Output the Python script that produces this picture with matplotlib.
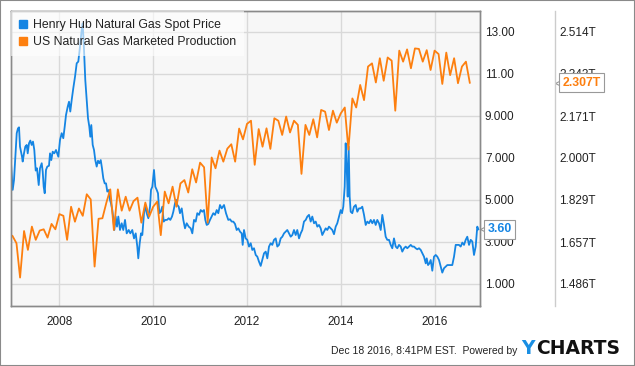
import numpy as np
import pandas as pd
import matplotlib
matplotlib.use('Agg')
from matplotlib import pyplot as plt
from matplotlib.lines import Line2D
from matplotlib.patches import Rectangle
import matplotlib.transforms as mtransforms

plt.rcParams['font.family'] = ['Liberation Sans', 'DejaVu Sans']

# Henry Hub spot price (USD/MMBtu), sample dates as decimal years
hh_t = [2006.968, 2007.004, 2007.032, 2007.068, 2007.090, 2007.117, 2007.139, 2007.160, 2007.203, 2007.217,
        2007.245, 2007.273, 2007.303, 2007.324, 2007.352, 2007.380, 2007.409, 2007.437, 2007.465, 2007.495,
        2007.522, 2007.559, 2007.586, 2007.623, 2007.644, 2007.665, 2007.687, 2007.714, 2007.742, 2007.778,
        2007.800, 2007.827, 2007.857, 2007.891, 2007.928, 2007.977,
        2008.013, 2008.049, 2008.083, 2008.113, 2008.141, 2008.177, 2008.205, 2008.232, 2008.262, 2008.296,
        2008.333, 2008.369, 2008.403, 2008.439, 2008.475, 2008.497, 2008.525, 2008.552, 2008.582, 2008.610,
        2008.638, 2008.659, 2008.680, 2008.710, 2008.738, 2008.765, 2008.795, 2008.823, 2008.851, 2008.881,
        2008.908, 2008.936, 2008.966, 2008.994,
        2009.021, 2009.058, 2009.079, 2009.100, 2009.128, 2009.149, 2009.171, 2009.200, 2009.228, 2009.256,
        2009.292, 2009.328, 2009.362, 2009.399, 2009.435, 2009.478, 2009.512, 2009.554, 2009.591, 2009.627,
        2009.661, 2009.682, 2009.712, 2009.740, 2009.768, 2009.804, 2009.832, 2009.861, 2009.896, 2009.932,
        2009.953, 2009.981,
        2010.017, 2010.045, 2010.075, 2010.102, 2010.130, 2010.160, 2010.194, 2010.224, 2010.258, 2010.294,
        2010.331, 2010.365, 2010.401, 2010.429, 2010.465, 2010.493, 2010.514, 2010.544, 2010.571, 2010.608,
        2010.642, 2010.678, 2010.714, 2010.757, 2010.800, 2010.834, 2010.870, 2010.906, 2010.940, 2010.977,
        2011.013, 2011.047, 2011.083, 2011.111, 2011.141, 2011.175, 2011.211, 2011.247, 2011.281, 2011.318,
        2011.354, 2011.388, 2011.424, 2011.461, 2011.510, 2011.552, 2011.601, 2011.638, 2011.674, 2011.708,
        2011.744, 2011.780, 2011.815, 2011.851, 2011.887, 2011.908, 2011.936, 2011.972,
        2012.006, 2012.043, 2012.079, 2012.113, 2012.149, 2012.186, 2012.220, 2012.256, 2012.292, 2012.326,
        2012.363, 2012.399, 2012.433, 2012.469, 2012.505, 2012.539, 2012.576, 2012.612, 2012.646, 2012.682,
        2012.718, 2012.753, 2012.789, 2012.825, 2012.859, 2012.896, 2012.932, 2012.966,
        2013.002, 2013.038, 2013.072, 2013.109, 2013.145, 2013.179, 2013.215, 2013.252, 2013.286, 2013.322,
        2013.358, 2013.392, 2013.429, 2013.465, 2013.499, 2013.535, 2013.571, 2013.605, 2013.642, 2013.678,
        2013.712, 2013.748, 2013.785, 2013.819, 2013.855, 2013.891, 2013.925, 2013.961, 2013.998,
        2014.026, 2014.053, 2014.083, 2014.104, 2014.125, 2014.147, 2014.168, 2014.189, 2014.211, 2014.245,
        2014.281, 2014.318, 2014.352, 2014.388, 2014.424, 2014.458, 2014.495, 2014.531, 2014.565, 2014.601,
        2014.638, 2014.672, 2014.708, 2014.744, 2014.778, 2014.815, 2014.851, 2014.885, 2014.921, 2014.957,
        2014.991,
        2015.028, 2015.064, 2015.098, 2015.134, 2015.171, 2015.205, 2015.241, 2015.277, 2015.311, 2015.348,
        2015.384, 2015.418, 2015.454, 2015.491, 2015.525, 2015.561, 2015.597, 2015.631, 2015.668, 2015.704,
        2015.738, 2015.774, 2015.811, 2015.832, 2015.860, 2015.889, 2015.917, 2015.951, 2015.987,
        2016.024, 2016.058, 2016.094, 2016.130, 2016.164, 2016.201, 2016.237, 2016.271, 2016.307, 2016.343,
        2016.377, 2016.414, 2016.450, 2016.484, 2016.520, 2016.556, 2016.591, 2016.627, 2016.663, 2016.697,
        2016.734, 2016.770, 2016.804, 2016.840, 2016.876, 2016.910, 2016.932]
hh_v = [6.78, 5.48, 5.95, 7.38, 8.18, 8.41, 8.46, 7.54, 7.06, 6.83,
        7.22, 7.54, 7.62, 7.22, 7.70, 7.83, 7.62, 7.78, 7.38, 6.40,
        6.51, 5.71, 6.51, 6.75, 6.35, 5.63, 5.32, 6.43, 6.59, 6.63,
        7.22, 6.90, 7.30, 7.22, 7.38, 7.06,
        7.86, 8.18, 7.94, 8.49, 9.05, 9.44, 9.68, 9.21, 9.76, 10.32,
        10.87, 11.51, 11.59, 12.30, 13.10, 13.41, 12.14, 10.71, 9.76, 8.89,
        8.49, 8.01, 8.57, 7.62, 7.38, 6.90, 6.59, 6.87, 6.75, 6.90,
        6.51, 6.03, 5.79, 5.79,
        5.40, 5.48, 5.00, 4.84, 4.52, 4.13, 3.57, 4.21, 3.73, 4.21,
        3.57, 3.89, 3.57, 4.05, 3.41, 3.57, 3.41, 3.57, 3.17, 3.41,
        2.78, 2.22, 2.94, 3.41, 3.33, 4.37, 4.76, 4.37, 4.13, 4.68,
        5.48, 5.63,
        6.43, 5.63, 5.48, 5.32, 4.37, 4.44, 4.68, 3.97, 4.05, 4.05,
        4.13, 4.05, 4.21, 4.44, 4.84, 5.00, 4.76, 4.68, 4.37, 4.60,
        4.05, 3.65, 3.89, 3.73, 3.65, 3.41, 4.05, 3.97, 4.37, 4.29,
        4.52, 4.44, 4.52, 4.05, 3.81, 3.86, 4.05, 4.21, 4.37, 4.29,
        4.52, 4.37, 4.76, 4.60, 4.76, 4.37, 4.05, 4.08, 3.97, 3.97,
        3.86, 3.57, 3.65, 3.49, 3.41, 2.86, 3.57, 3.17,
        3.10, 2.78, 2.94, 2.62, 2.70, 2.38, 2.30, 2.06, 1.86, 2.14,
        2.46, 2.54, 2.22, 2.78, 2.94, 2.86, 3.10, 3.17, 2.78, 2.86,
        3.17, 3.25, 3.41, 3.49, 3.57, 3.41, 3.25, 3.33,
        3.57, 3.33, 3.57, 3.17, 3.41, 3.57, 3.97, 4.05, 4.21, 4.29,
        3.97, 4.21, 3.89, 3.97, 3.73, 3.81, 3.65, 3.33, 3.49, 3.65,
        3.57, 3.73, 3.65, 3.57, 3.37, 3.73, 3.89, 4.21, 4.52,
        4.37, 4.68, 5.63, 7.70, 6.59, 5.16, 7.54, 5.16, 4.44, 4.37,
        4.68, 4.76, 4.44, 4.60, 4.60, 4.68, 4.29, 3.81, 3.97, 3.89,
        4.05, 3.89, 4.05, 3.81, 4.05, 3.89, 3.57, 4.29, 3.81, 3.25,
        3.10,
        3.10, 2.86, 2.70, 3.17, 2.78, 2.70, 2.86, 2.78, 2.54, 2.70,
        2.78, 2.70, 2.78, 2.86, 2.78, 2.78, 2.70, 2.65, 2.70, 2.62,
        2.46, 2.30, 1.98, 2.22, 1.90, 1.98, 2.14, 1.63, 2.30,
        2.38, 2.30, 2.14, 1.83, 1.54, 1.75, 1.83, 1.90, 1.90, 1.90,
        1.90, 2.30, 2.86, 2.86, 2.86, 2.78, 2.97, 2.86, 3.10, 3.25,
        2.86, 3.10, 3.02, 2.38, 2.78, 3.73, 3.60]

# US natural gas marketed production (trillion cubic feet), monthly Dec 2006 - Sep 2016
prod_dates = pd.date_range('2006-12-31', '2016-09-30', freq='ME')
prod_v = [1.682,
          1.652, 1.512, 1.702, 1.625, 1.720, 1.666, 1.704, 1.709, 1.675, 1.731, 1.709, 1.771,
          1.764, 1.666, 1.801, 1.740, 1.794, 1.764, 1.852, 1.831, 1.557, 1.752, 1.754, 1.818,
          1.872, 1.706, 1.872, 1.785, 1.842, 1.785, 1.824, 1.838, 1.736, 1.818, 1.761, 1.801,
          1.822, 1.685, 1.863, 1.815, 1.883, 1.801, 1.896, 1.910, 1.859, 1.954, 1.900, 1.981,
          1.962, 1.736, 2.002, 1.958, 2.030, 1.985, 2.038, 2.056, 1.985, 2.120, 2.076, 2.139,
          2.152, 1.972, 2.118, 2.046, 2.121, 2.037, 2.162, 2.152, 2.094, 2.169, 2.104, 2.152,
          2.135, 1.935, 2.135, 2.094, 2.158, 2.084, 2.196, 2.189, 2.114, 2.193, 2.144, 2.182,
          2.206, 2.034, 2.243, 2.206, 2.298, 2.236, 2.373, 2.386, 2.308, 2.407, 2.315, 2.410,
          2.397, 2.193, 2.438, 2.393, 2.443, 2.366, 2.447, 2.445, 2.393, 2.440, 2.359, 2.438,
          2.424, 2.302, 2.430, 2.338, 2.407, 2.305, 2.373, 2.393, 2.307]
prod_t = prod_dates.year + prod_dates.dayofyear / 365.25

year_ticks = [2008, 2010, 2012, 2014, 2016]
price_ticks = [1, 3, 5, 7, 9, 11, 13]
price_labels = ['1.000', '3.000', '5.000', '7.000', '9.000', '11.00', '13.00']
prod_ticks = [1.486, 1.657, 1.829, 2.000, 2.171, 2.343, 2.514]

blue = '#1585e3'
orange = '#fd7f0f'
grid_c = '#d9d9d9'
text_c = '#222222'

# right-hand scale: 13 -> 2.514T, 1 -> 1.486T
def to_prod(p):
    return 2.0 + (p - 7.0) * 0.514 / 6.0

p_lo, p_hi = -0.05, 14.0

fig = plt.figure(figsize=(6.35, 3.66), dpi=100)
W, H = 635, 366
ax = fig.add_axes([11 / W, 1 - 306 / H, 469 / W, 295 / H])
ax.set_facecolor('#f7f7f7')
ax2 = ax.twinx()
ax2.patch.set_visible(False)

ax.plot(hh_t, hh_v, color=blue, lw=1.3, solid_joinstyle='round')
ax2.plot(prod_t, prod_v, color=orange, lw=1.3, solid_joinstyle='round')

ax.set_xlim(2006.968, 2016.968)
ax.set_ylim(p_lo, p_hi)
ax2.set_ylim(to_prod(p_lo), to_prod(p_hi))

ax.set_xticks(year_ticks)
ax.set_xticklabels([str(y) for y in year_ticks])
ax.set_yticks(price_ticks)
ax.set_yticklabels(price_labels)
ax.yaxis.tick_right()
ax.tick_params(axis='y', length=0, pad=3.5, labelsize=8.5, labelcolor=text_c)
ax.tick_params(axis='x', length=0, pad=7, labelsize=8.5, labelcolor=text_c)
ax2.set_yticks(prod_ticks)
ax2.set_yticklabels(['%.3fT' % v for v in prod_ticks])
ax2.tick_params(axis='y', length=0, pad=57, labelsize=8.5, labelcolor=text_c)

ax.grid(True, color=grid_c, lw=1)
ax.set_axisbelow(True)
for a in (ax, ax2):
    for s in a.spines.values():
        s.set_color('#8a8a8a')
        s.set_linewidth(1)

# divider between the two scales
fig.add_artist(Line2D([554.5 / W, 554.5 / W], [1 - 11 / H, 1 - 306 / H],
                      transform=fig.transFigure, color='#cccccc', lw=1))

# legend
handles = [Line2D([], [], ls='none', marker='s', ms=5.5, color=blue),
           Line2D([], [], ls='none', marker='s', ms=5.5, color=orange)]
leg = ax2.legend(handles, ['Henry Hub Natural Gas Spot Price', 'US Natural Gas Marketed Production'],
                 loc='upper left', bbox_to_anchor=(0, 1), borderaxespad=0, fontsize=8.8,
                 frameon=True, fancybox=False, framealpha=0.6, facecolor='white', edgecolor='none',
                 handlelength=0.7, handletextpad=0.45, labelspacing=0.42, borderpad=0.65)
for t in leg.get_texts():
    t.set_color(text_c)

# last-value callouts
tr1 = mtransforms.blended_transform_factory(ax.transAxes, ax.transData)
ax.plot([1], [hh_v[-1]], marker='<', ms=5, mfc='white', mec='#999999', mew=0.8, clip_on=False,
        transform=mtransforms.offset_copy(tr1, fig, x=2.3, units='points'), zorder=5)
ax.annotate('%.2f' % hh_v[-1], xy=(1, hh_v[-1]), xycoords=tr1, xytext=(5.6, 0),
            textcoords='offset points', ha='left', va='center', fontsize=8.8, fontweight='bold',
            color=blue, zorder=6,
            bbox=dict(boxstyle='square,pad=0.28', fc='white', ec='#999999', lw=0.8))

tr2 = mtransforms.blended_transform_factory(ax2.transAxes, ax2.transData)
ax2.plot([1], [prod_v[-1]], marker='<', ms=5, mfc='white', mec='#999999', mew=0.8, clip_on=False,
         transform=mtransforms.offset_copy(tr2, fig, x=56.2, units='points'), zorder=5)
ax2.annotate('%.3fT' % prod_v[-1], xy=(1, prod_v[-1]), xycoords=tr2, xytext=(59.5, 0),
             textcoords='offset points', ha='left', va='center', fontsize=8.8, fontweight='bold',
             color=orange, zorder=6,
             bbox=dict(boxstyle='square,pad=0.28', fc='white', ec='#999999', lw=0.8))

# footer
fig.text(517 / W, 1 - 351 / H, 'Dec 18 2016, 8:41PM EST.  Powered by', ha='right', va='center',
         fontsize=7.5, color=text_c)
fig.text(521 / W, 1 - 349 / H, 'Y', ha='left', va='center', fontsize=13.5, fontweight='heavy',
         family='DejaVu Sans', color='#1a8fe3')
fig.text(536 / W, 1 - 349 / H, 'CHARTS', ha='left', va='center', fontsize=13.5, fontweight='heavy',
         family='DejaVu Sans', color='#111111')

# outer frame
fig.add_artist(Rectangle((0, 0), 1, 1, transform=fig.transFigure, fill=False,
                         ec='#8a8a8a', lw=1.5))

plt.savefig('out.png', dpi=100)
